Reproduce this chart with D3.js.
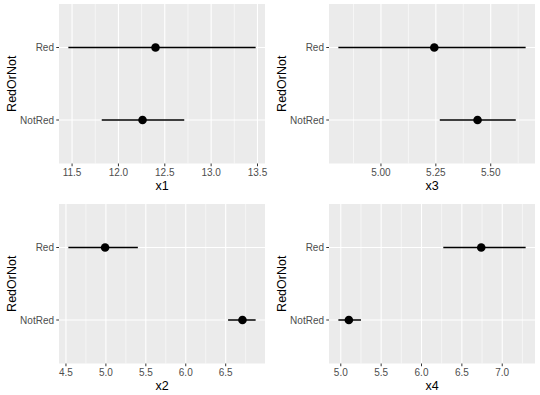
<!DOCTYPE html>
<html>
  <head>
    <meta charset="utf-8">
    <title>RedOrNot</title>
    <script src="https://d3js.org/d3.v7.min.js" charset="utf-8"></script>
    <style>
      body {
        margin: 0;
        background: #fff;
      }
      text {
        font-family: "Liberation Sans", Arial, sans-serif;
      }
    </style>
  </head>
  <body>
    <script type="text/javascript">
      // groups on the y axis (bottom to top)
      var groups = ["NotRed", "Red"];

      // one panel per variable, in grid order
      var varNames = ["x1", "x3", "x2", "x4"];

      // point estimate and interval per group, order as in groups
      var x1Mean = [12.26, 12.40], x1Lo = [11.82, 11.46], x1Hi = [12.71, 13.48];
      var x3Mean = [5.44, 5.243], x3Lo = [5.268, 4.806], x3Hi = [5.614, 5.659];
      var x2Mean = [6.71, 4.99], x2Lo = [6.53, 4.53], x2Hi = [6.875, 5.40];
      var x4Mean = [5.10, 6.74], x4Lo = [4.97, 6.27], x4Hi = [5.25, 7.29];

      // tick labels per panel
      var x1Ticks = [11.5, 12.0, 12.5, 13.0, 13.5];
      var x3Ticks = [5.00, 5.25, 5.50];
      var x2Ticks = [4.5, 5.0, 5.5, 6.0, 6.5];
      var x4Ticks = [5.0, 5.5, 6.0, 6.5, 7.0];

      var panels = [
        {name: varNames[0], mean: x1Mean, lo: x1Lo, hi: x1Hi, ticks: x1Ticks, fmt: ".1f"},
        {name: varNames[1], mean: x3Mean, lo: x3Lo, hi: x3Hi, ticks: x3Ticks, fmt: ".2f"},
        {name: varNames[2], mean: x2Mean, lo: x2Lo, hi: x2Hi, ticks: x2Ticks, fmt: ".1f"},
        {name: varNames[3], mean: x4Mean, lo: x4Lo, hi: x4Hi, ticks: x4Ticks, fmt: ".1f"}
      ];

      var width = 540, height = 395;

      var svg = d3.select("body").append("svg")
                  .attr("width", width)
                  .attr("height", height);

      panels.forEach(function(p, i) {
        var col = i % 2, row = Math.floor(i / 2);
        var ox = col * 270, oy = row * 200;

        var left = ox + 59, right = ox + 265;
        var top = oy + 4, bottom = oy + 163.5;

        // ggplot style 5% expansion on the continuous axis
        var lo = d3.min(p.lo), hi = d3.max(p.hi);
        var pad = (hi - lo) * 0.05;
        var x = d3.scaleLinear().domain([lo - pad, hi + pad]).range([left, right]);

        // discrete axis: levels at 1..n with 0.6 expansion
        var y = d3.scaleLinear().domain([0.4, groups.length + 0.6]).range([bottom, top]);

        var g = svg.append("g");

        g.append("rect")
          .attr("x", left).attr("y", top)
          .attr("width", right - left).attr("height", bottom - top)
          .attr("fill", "#EBEBEB");

        // minor grid lines halfway between the breaks
        var step = p.ticks[1] - p.ticks[0];
        var minor = [];
        for (var k = -1; k < p.ticks.length; k++) {
          var v = p.ticks[0] + (k + 0.5) * step;
          if (v >= x.domain()[0] && v <= x.domain()[1]) minor.push(v);
        }
        g.selectAll(".minor").data(minor).enter().append("line")
          .attr("x1", function(d) { return x(d); }).attr("x2", function(d) { return x(d); })
          .attr("y1", top).attr("y2", bottom)
          .attr("stroke", "#fff").attr("stroke-width", 0.55);

        g.selectAll(".majorx").data(p.ticks).enter().append("line")
          .attr("x1", function(d) { return x(d); }).attr("x2", function(d) { return x(d); })
          .attr("y1", top).attr("y2", bottom)
          .attr("stroke", "#fff").attr("stroke-width", 1.1);

        g.selectAll(".majory").data(groups).enter().append("line")
          .attr("x1", left).attr("x2", right)
          .attr("y1", function(d, j) { return y(j + 1); })
          .attr("y2", function(d, j) { return y(j + 1); })
          .attr("stroke", "#fff").attr("stroke-width", 1.1);

        // error bars and points
        g.selectAll(".bar").data(groups).enter().append("line")
          .attr("x1", function(d, j) { return x(p.lo[j]); })
          .attr("x2", function(d, j) { return x(p.hi[j]); })
          .attr("y1", function(d, j) { return y(j + 1); })
          .attr("y2", function(d, j) { return y(j + 1); })
          .attr("stroke", "#000").attr("stroke-width", 1.5);

        g.selectAll(".pt").data(groups).enter().append("circle")
          .attr("cx", function(d, j) { return x(p.mean[j]); })
          .attr("cy", function(d, j) { return y(j + 1); })
          .attr("r", 4.3)
          .attr("fill", "#000");

        // x axis
        var fmt = d3.format(p.fmt);
        var xa = g.append("g").selectAll("g").data(p.ticks).enter().append("g");
        xa.append("line")
          .attr("x1", function(d) { return x(d); }).attr("x2", function(d) { return x(d); })
          .attr("y1", bottom).attr("y2", bottom + 2.75)
          .attr("stroke", "#333").attr("stroke-width", 1);
        xa.append("text")
          .attr("x", function(d) { return x(d); })
          .attr("y", bottom + 12.5)
          .attr("text-anchor", "middle")
          .attr("font-size", "10px")
          .attr("fill", "#4D4D4D")
          .text(function(d) { return fmt(d); });

        g.append("text")
          .attr("x", (left + right) / 2)
          .attr("y", oy + 190)
          .attr("text-anchor", "middle")
          .attr("font-size", "12.5px")
          .attr("fill", "#000")
          .text(p.name);

        // y axis
        var ya = g.append("g").selectAll("g").data(groups).enter().append("g");
        ya.append("line")
          .attr("x1", left - 2.75).attr("x2", left)
          .attr("y1", function(d, j) { return y(j + 1); })
          .attr("y2", function(d, j) { return y(j + 1); })
          .attr("stroke", "#333").attr("stroke-width", 1);
        ya.append("text")
          .attr("x", left - 5)
          .attr("y", function(d, j) { return y(j + 1); })
          .attr("dy", "0.35em")
          .attr("text-anchor", "end")
          .attr("font-size", "10px")
          .attr("fill", "#4D4D4D")
          .text(function(d) { return d; });

        g.append("text")
          .attr("transform", "translate(" + (ox + 16) + "," + ((top + bottom) / 2) + ") rotate(-90)")
          .attr("text-anchor", "middle")
          .attr("font-size", "12.5px")
          .attr("fill", "#000")
          .text("RedOrNot");
      });
    </script>
  </body>
</html>
